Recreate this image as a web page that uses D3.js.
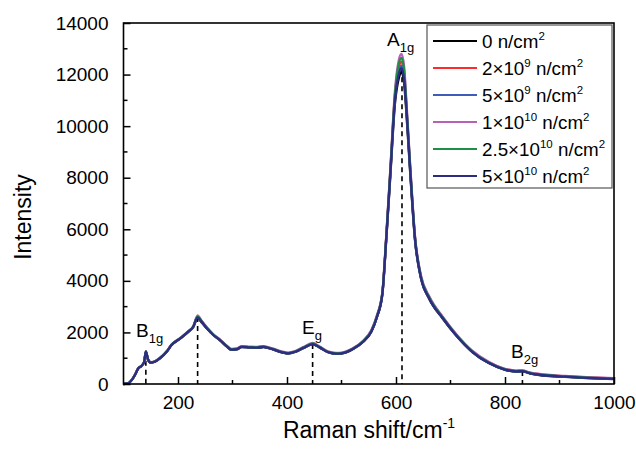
<!DOCTYPE html>
<html><head><meta charset="utf-8">
<script src="https://cdn.jsdelivr.net/npm/d3@7"></script>
<style>body{margin:0;background:#fff}svg{display:block}text{font-family:Arial,"Liberation Sans",sans-serif;fill:#000}</style>
</head><body>
<svg id="c" width="636" height="450"></svg>
<script>
const wavenumber = [100,108,115,121,127,133,138,141,145,150,158,167,179,188,204,219,228,236,243,253,265,277,289,298,308,317,332,345,357,375,390,402,415,430,447,460,475,490,500,520,540,555,565,575,582,590,598,605,610,615,618,626,635,646,661,686,710,740,770,800,820,832,845,870,910,950,1000];

const s0 = [0,20,150,350,600,700,860,1240,940,820,860,990,1240,1500,1760,2020,2210,2560,2400,2150,1890,1690,1460,1320,1340,1430,1410,1400,1430,1330,1230,1180,1240,1390,1540,1410,1230,1170,1180,1340,1640,2040,2590,3480,5550,8200,10850,11850,12100,11650,10850,8200,5550,4080,3300,2530,1890,1240,810,550,480,490,410,330,275,230,190];
const s1 = [0,20,150,350,600,700,860,1250,950,830,870,1000,1250,1510,1770,2030,2220,2600,2430,2170,1910,1710,1480,1340,1360,1450,1430,1420,1450,1350,1250,1200,1260,1410,1560,1430,1250,1190,1200,1360,1660,2070,2620,3530,5650,8380,11150,12250,12500,12000,11150,8380,5650,4140,3350,2570,1920,1270,840,580,510,520,440,360,305,260,220];
const s2 = [0,20,150,350,600,700,860,1250,950,830,870,1000,1250,1510,1770,2030,2220,2590,2420,2160,1900,1700,1470,1330,1350,1440,1420,1410,1440,1340,1240,1190,1250,1400,1550,1420,1240,1180,1190,1350,1650,2050,2600,3500,5600,8320,11050,12100,12350,11900,11050,8320,5600,4100,3320,2550,1900,1250,820,560,490,500,420,340,285,240,200];
const s3 = [0,20,160,360,610,710,870,1270,970,850,890,1020,1270,1530,1790,2050,2240,2660,2460,2200,1930,1730,1500,1360,1380,1470,1450,1440,1470,1370,1270,1220,1280,1430,1590,1450,1270,1210,1220,1380,1690,2100,2660,3580,5720,8500,11350,12550,12800,12300,11350,8500,5720,4200,3400,2600,1950,1290,860,590,520,530,450,370,315,270,230];
const s4 = [0,20,155,355,605,705,865,1260,960,840,880,1010,1260,1520,1780,2040,2230,2620,2440,2180,1910,1710,1480,1340,1360,1450,1430,1420,1450,1350,1250,1200,1260,1410,1570,1430,1250,1190,1200,1360,1670,2070,2630,3540,5660,8420,11200,12400,12650,12150,11200,8420,5660,4150,3360,2570,1920,1260,830,570,500,510,430,350,295,250,210];
const s5 = [0,20,150,350,600,700,860,1250,950,830,870,1000,1250,1510,1770,2030,2220,2580,2420,2160,1900,1700,1470,1330,1350,1440,1420,1410,1440,1340,1240,1190,1250,1400,1550,1420,1240,1180,1190,1350,1650,2050,2600,3500,5600,8300,11000,12000,12250,11800,11000,8300,5600,4100,3320,2550,1900,1250,820,560,490,500,420,340,285,240,200];

const seriesValues = [s0,s1,s2,s3,s4,s5];
const seriesColors = ["#000000","#ff2a2a","#3d5db8","#b85fb8","#1f8f45","#2c2c82"];
const legendLabels = [
  [["0 n/cm"],["2","sup"]],
  [["2×10"],["9","sup"],[" n/cm"],["2","sup"]],
  [["5×10"],["9","sup"],[" n/cm"],["2","sup"]],
  [["1×10"],["10","sup"],[" n/cm"],["2","sup"]],
  [["2.5×10"],["10","sup"],[" n/cm"],["2","sup"]],
  [["5×10"],["10","sup"],[" n/cm"],["2","sup"]]
];
const xTicks = [200,400,600,800,1000];
const xMinor = [300,500,700,900];
const yTicks = [0,2000,4000,6000,8000,10000,12000,14000];
const yMinor = [1000,3000,5000,7000,9000,11000,13000];
const peakPositions = [141,236,447,611,832];
const peakTops = [1250,2600,1550,12250,500];
const annot = [
  {main:"B",sub:"1g",x:136,y:337},
  {main:"E",sub:"g",x:302,y:334},
  {main:"A",sub:"1g",x:387,y:46},
  {main:"B",sub:"2g",x:511,y:358}
];

const svg = d3.select("#c");
const L=123.5, R=614, T=23, B=384;
const x = d3.scaleLinear().domain([100,1000]).range([L,R]);
const y = d3.scaleLinear().domain([0,14000]).range([B,T]);

svg.append("g").selectAll("line").data(peakPositions).join("line")
  .attr("x1",d=>x(d)).attr("x2",d=>x(d))
  .attr("y1",(d,i)=>y(peakTops[i])).attr("y2",B)
  .attr("stroke","#000").attr("stroke-width",1.6).attr("stroke-dasharray","5,4");

const line = d3.line().x((d,i)=>x(wavenumber[i])).y(d=>y(d)).curve(d3.curveMonotoneX);
svg.append("g").selectAll("path").data(seriesValues).join("path")
  .attr("d",line).attr("fill","none")
  .attr("stroke",(d,i)=>seriesColors[i]).attr("stroke-width",2.3)
  .attr("stroke-linejoin","round");

const fs = 19;
const gx = svg.append("g").attr("transform",`translate(0,${B})`)
  .call(d3.axisBottom(x).tickValues(xTicks).tickSizeInner(-7).tickSizeOuter(0).tickPadding(12).tickFormat(d3.format("d")));
gx.append("g").selectAll("line").data(xMinor).join("line")
  .attr("x1",d=>x(d)).attr("x2",d=>x(d)).attr("y1",0).attr("y2",-4).attr("stroke","#000").attr("stroke-width",1.5);
const gy = svg.append("g").attr("transform",`translate(${L},0)`)
  .call(d3.axisLeft(y).tickValues(yTicks).tickSizeInner(-7).tickSizeOuter(0).tickPadding(15).tickFormat(d3.format("d")));
gy.append("g").selectAll("line").data(yMinor).join("line")
  .attr("y1",d=>y(d)).attr("y2",d=>y(d)).attr("x1",0).attr("x2",4).attr("stroke","#000").attr("stroke-width",1.5);
[gx,gy].forEach(g=>{
  g.selectAll("text").attr("font-size",fs).attr("font-family","Arial,'Liberation Sans',sans-serif").attr("fill","#000");
  g.selectAll(".tick line").attr("stroke-width",1.5);
  g.select(".domain").remove();
});
svg.append("rect").attr("x",L).attr("y",T).attr("width",R-L).attr("height",B-T)
  .attr("fill","none").attr("stroke","#000").attr("stroke-width",1.6);

annot.forEach(a=>{
  const t = svg.append("text").attr("x",a.x).attr("y",a.y).attr("font-size",19);
  t.append("tspan").text(a.main);
  t.append("tspan").attr("font-size",13).attr("dy",6).text(a.sub);
});

svg.append("text").attr("transform","translate(31,217) rotate(-90)").attr("text-anchor","middle")
  .attr("font-size",23).text("Intensity");
const xt = svg.append("text").attr("x",369).attr("y",438).attr("text-anchor","middle").attr("font-size",23);
xt.append("tspan").text("Raman shift/cm");
xt.append("tspan").attr("font-size",14).attr("dy",-10).text("-1");

const lg = svg.append("g");
lg.append("rect").attr("x",427).attr("y",25).attr("width",185).attr("height",163)
  .attr("fill","#fff").attr("stroke","#555").attr("stroke-width",1.2);
const rowY = d3.scaleLinear().domain([0,5]).range([41,176]);
legendLabels.forEach((parts,i)=>{
  const yy = rowY(i);
  lg.append("line").attr("x1",433).attr("x2",477).attr("y1",yy).attr("y2",yy)
    .attr("stroke",seriesColors[i]).attr("stroke-width",1.8);
  const t = lg.append("text").attr("x",482).attr("y",yy+7).attr("font-size",18.8);
  let up=false;
  parts.forEach(p=>{
    const ts = t.append("tspan").text(p[0]);
    if(p[1]==="sup"){ ts.attr("font-size",11.5).attr("dy",-8); up=true; }
    else if(up){ ts.attr("dy",8); up=false; }
  });
});
</script>
</body></html>
